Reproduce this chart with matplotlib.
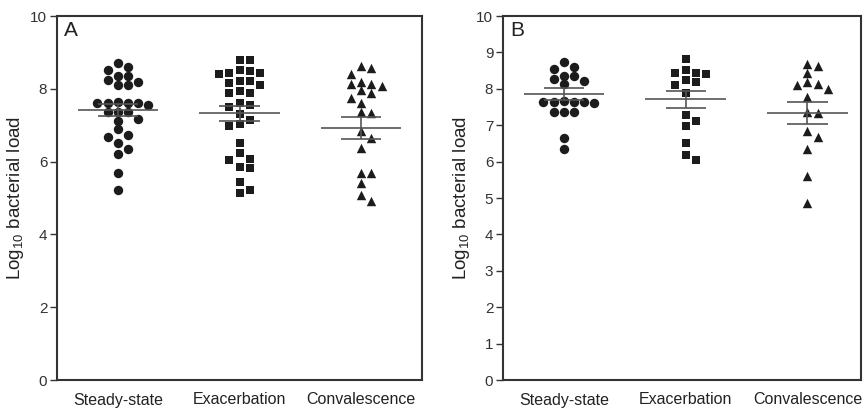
import numpy as np
import matplotlib
matplotlib.use('Agg')
import matplotlib.pyplot as plt

plt.rcParams['font.family'] = ['Liberation Sans', 'DejaVu Sans']
plt.rcParams['mathtext.fontset'] = 'custom'
plt.rcParams['mathtext.rm'] = 'Liberation Sans'
plt.rcParams['mathtext.it'] = 'Liberation Sans:italic'

groups = ['Steady-state', 'Exacerbation', 'Convalescence']
markers = ['o', 's', '^']

# panel A: log10 bacterial load per sample
a_steady = [8.70, 8.59, 8.52, 8.35, 8.35, 8.24, 8.19, 8.10, 8.10, 7.64, 7.62, 7.60, 7.55, 7.62,
            7.62, 7.37, 7.36, 7.37, 7.12, 7.16, 6.89, 6.73, 6.67, 6.50, 6.35, 6.21, 5.70, 5.22]
a_exac = [8.79, 8.79, 8.52, 8.43, 8.40, 8.43, 8.49, 8.21, 8.10, 8.15, 8.21, 7.88, 7.94, 7.88,
          7.49, 7.62, 7.55, 7.31, 7.14, 6.99, 7.03, 6.50, 6.23, 6.04, 6.06, 5.82, 5.86, 5.43,
          5.13, 5.22]
a_conv = [8.56, 8.63, 8.41, 8.12, 8.08, 8.12, 8.20, 7.97, 7.88, 7.76, 7.62, 7.33, 7.37, 6.84,
          6.66, 6.37, 5.68, 5.70, 5.42, 5.08, 4.92]
a_mean = [7.42, 7.33, 6.92]
a_sem = [0.17, 0.21, 0.31]

# panel B
b_steady = [8.73, 8.61, 8.54, 8.36, 8.36, 8.26, 8.21, 8.12, 7.63, 7.60, 7.66, 7.63, 7.63, 7.63,
            7.37, 7.37, 7.37, 6.66, 6.34]
b_exac = [8.82, 8.53, 8.44, 8.42, 8.44, 8.20, 8.24, 8.10, 7.89, 7.28, 7.12, 6.98, 6.50, 6.18, 6.04]
b_conv = [8.67, 8.63, 8.44, 8.20, 8.10, 8.12, 7.99, 7.77, 7.33, 7.37, 6.85, 6.67, 6.35, 5.60, 4.85]
b_mean = [7.85, 7.71, 7.33]
b_sem = [0.16, 0.23, 0.30]

ink = '#1c1c1c'
line_c = '#555555'


def swarm(vals, y_tol, step):
    # column-style layout: nearest free slot to the centre
    placed = []
    offs = np.zeros(len(vals))
    order = np.argsort(vals)[::-1]
    slots = [0, 1, -1, 2, -2, 3, -3, 4, -4]
    for i in order:
        for s in slots:
            if all(not (ps == s and abs(pv - vals[i]) < y_tol) for ps, pv in placed):
                placed.append((s, vals[i]))
                offs[i] = s * step
                break
    return offs


def panel(ax, data, means, sems, tick_step, letter, xmax):
    ax.set_xlim(-0.5, xmax)
    ax.set_ylim(0, 10)
    # pixel scale for swarm spacing
    fig = ax.figure
    bb = ax.get_position()
    px_h = bb.height * fig.get_figheight() * fig.dpi
    px_w = bb.width * fig.get_figwidth() * fig.dpi
    y_tol = 8.2 / (px_h / 10.0)
    step = 10.2 / (px_w / (xmax + 0.5))
    for i, vals in enumerate(data):
        vals = np.array(vals)
        x = i + swarm(vals, y_tol, step)
        ax.scatter(x, vals, marker=markers[i], s=46 if markers[i] != 's' else 40,
                   color=ink, linewidths=0, zorder=2)
        m, e = means[i], sems[i]
        ax.hlines(m, i - 0.33, i + 0.33, color=line_c, lw=1.2, zorder=3)
        ax.hlines([m - e, m + e], i - 0.165, i + 0.165, color=line_c, lw=1.2, zorder=3)
        ax.vlines(i, m - e, m + e, color=line_c, lw=1.2, zorder=3)
    ax.set_xticks(range(3))
    ax.set_xticklabels(groups, fontsize=11.5)
    ax.tick_params(axis='x', length=0, pad=9, colors='#222222')
    ax.set_yticks(np.arange(0, 10.01, tick_step))
    ax.tick_params(axis='y', length=5, width=1, labelsize=11, pad=2, colors='#333333')
    for sp in ax.spines.values():
        sp.set_linewidth(1.5)
        sp.set_color('#333333')
    ax.set_ylabel('Log$_{10}$ bacterial load', fontsize=13.5, color='#222222', labelpad=3)
    ax.text(0.02, 0.985, letter, transform=ax.transAxes, fontsize=15, va='top', ha='left',
            color='#222222')


fig = plt.figure(figsize=(8.63, 4.13), dpi=100)
axA = fig.add_axes([57 / 863, 1 - 380 / 413, 365 / 863, 364 / 413])
axB = fig.add_axes([503 / 863, 1 - 380 / 413, 358 / 863, 364 / 413])

panel(axA, [a_steady, a_exac, a_conv], a_mean, a_sem, 2, 'A', 2.5)
panel(axB, [b_steady, b_exac, b_conv], b_mean, b_sem, 1, 'B', 2.44)

fig.savefig('out.png', dpi=100)
